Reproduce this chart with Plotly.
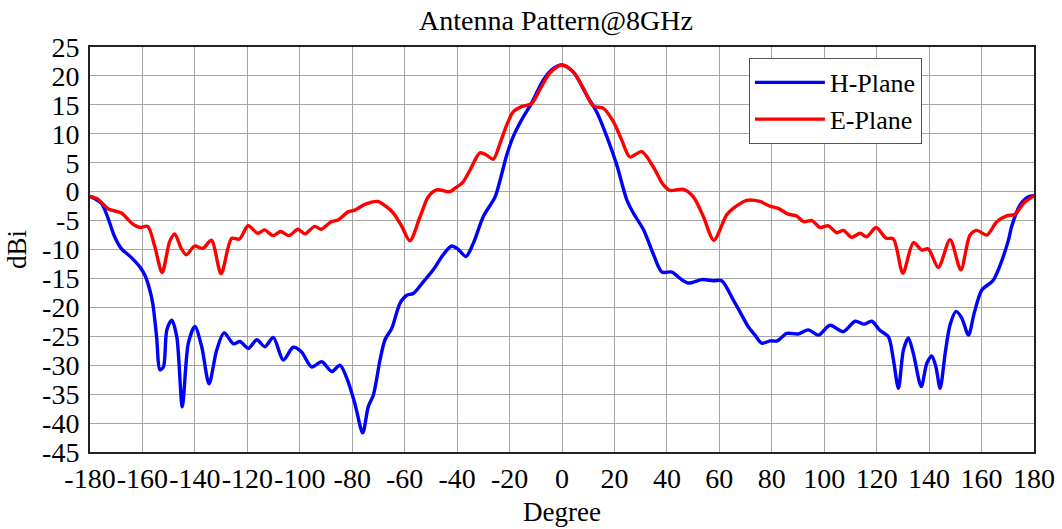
import plotly.graph_objects as go

# ---- data ----
e_deg = [-180, -177, -173, -168, -164, -161, -158, -155.3, -152.5, -149.6, -147.7, -145.2, -143.3,
         -140.1, -136.9, -133.7, -130, -126, -123, -119.7, -116, -113.4, -110.2, -107.3, -104.1,
         -100.7, -98, -94.3, -91.8, -88, -85.4, -81.6, -79, -75.2, -70.2, -67, -64.3, -61.1, -58,
         -54.1, -51, -47.8, -42.7, -40.8, -38, -35.1, -31.3, -28.7, -26.2, -23.6, -21.1, -18.6,
         -15.4, -11.6, -8.5, -4.6, 0, 4.3, 8.1, 11.9, 15.8, 19.6, 22.8, 25.9, 30.4, 34.8, 38.6,
         41.2, 46.3, 50.1, 53.9, 57.9, 62.8, 65.3, 70.4, 75.5, 79.3, 82.5, 86.3, 89.5, 92.1, 95.3,
         98.4, 101.6, 104.8, 107.3, 110.5, 113.7, 116.2, 119.8, 123.5, 126.4, 130, 134, 137.2,
         139.7, 143.5, 148, 152.1, 155.6, 158.2, 162, 165.8, 169.6, 172.8, 176, 180]
e_dbi = [-0.8, -1.3, -3.0, -3.7, -5.5, -6.2, -6.0, -9.5, -14.0, -8.6, -7.3, -9.8, -10.9,
         -9.4, -9.8, -8.4, -14.2, -8.1, -8.2, -5.9, -7.2, -6.6, -7.6, -6.9, -7.6,
         -6.5, -7.3, -6.0, -6.5, -5.2, -4.9, -3.5, -3.2, -2.2, -1.7, -2.6, -3.7, -6.0, -8.5,
         -4.3, -0.9, 0.3, 0.0, 0.6, 1.5, 3.7, 6.7, 6.3, 5.6, 8.4, 11.5, 13.8,
         14.7, 15.2, 17.6, 20.5, 21.9, 20.7, 17.9, 14.8, 14.4, 12.1, 8.9, 6.0, 6.9, 4.3, 1.2,
         0.2, 0.4, -0.9, -4.3, -8.4, -4.0, -2.9, -1.5, -1.7, -2.5, -2.9, -3.9, -4.2, -5.2, -5.0,
         -6.2, -5.9, -7.1, -6.7, -7.9, -7.2, -7.8, -6.2, -8.0, -8.2, -14.1, -8.8, -10.1,
         -9.9, -13.1, -8.3, -13.5, -7.5, -6.7, -7.5, -5.2, -4.2, -3.9, -2.0, -0.7]

h_deg = [-180, -175.7, -173.1, -170.6, -168.1, -164.2, -161, -159, -157.2, -156, -154.6, -153.3,
         -152.0, -150.7, -148.8, -146.9, -144.8, -142.5, -140, -137.4, -134.6, -131.7, -128.9,
         -125.3, -122.8, -119.6, -116.4, -113.3, -110.1, -106.3, -102.5, -99.3, -95.5, -91.6,
         -87.8, -84.7, -82.1, -79, -76, -73.9, -71.9, -69.4, -67.5, -64.9, -61.8, -59.2, -56.7,
         -52.9, -49.1, -45.3, -42.1, -39.5, -36.6, -33.8, -30, -25.5, -23.6, -21.1, -18.6, -15.4,
         -11.6, -7.1, -3.3, 0, 4.3, 9.4, 13.2, 17.1, 20.9, 24.7, 27.2, 31.1, 35, 38.1, 41.9, 45,
         48.2, 53.3, 57.7, 60.9, 65.3, 68.5, 71.1, 73.6, 76.2, 79.3, 82.1, 85.7, 90.1, 93.9, 97.8,
         102.2, 107.3, 111.8, 115.2, 118.1, 121.3, 124.5, 126.4, 128.3, 130.2, 132.1, 134, 137,
         139.1, 141, 142.6, 144.2, 146.1, 148, 150.3, 152.5, 155, 157.2, 160.1, 164.3, 167.1,
         170.3, 171.5, 174.7, 177.9, 180]
h_dbi = [-0.8, -2.0, -4.6, -7.8, -9.8, -11.4, -13.0, -14.5, -17.0, -19.5, -25.1, -30.8,
         -30.3, -23.9, -22.2, -25.1, -37.2, -26.2, -23.3, -26.8, -33.2, -27.4, -24.4,
         -26.3, -25.9, -27.1, -25.6, -26.8, -25.2, -29.1, -26.9, -27.7, -30.3, -29.4,
         -31.1, -30.0, -32.2, -36.6, -41.7, -37.2, -35.1, -29.1, -25.6, -23.6, -19.3, -17.9, -17.6,
         -15.6, -13.5, -10.9, -9.4, -10.0, -11.2, -8.9, -4.3, -0.9, 2.0, 6.3, 9.5, 12.4,
         15.3, 19.3, 21.3, 21.9, 20.7, 16.7, 13.8, 9.5, 4.6, -1.4, -3.7, -6.6, -11.0, -13.9, -13.9, -15.0,
         -15.8, -15.2, -15.4, -15.4, -18.7, -21.3, -23.4, -24.8, -26.2, -25.8, -25.8, -24.5, -24.6, -23.9, -24.8,
         -23.1, -24.2, -22.4, -22.9, -22.4, -24.0, -25.1, -29.1, -34.0, -27.4, -25.3, -28.0, -33.7,
         -29.7, -28.4, -30.3, -34.0, -28.0, -23.0, -20.7, -21.9, -24.8, -21.0, -17.0, -15.4, -12.7,
         -8.3, -6.0, -2.3, -0.9, -0.7]

x_ticks = list(range(-180, 181, 20))
y_ticks = list(range(-45, 26, 5))

FONT = "Liberation Serif, Times New Roman, serif"

fig = go.Figure()
fig.add_trace(go.Scatter(x=h_deg, y=h_dbi, mode="lines", name="H-Plane",
                         line=dict(color="#0000FF", width=3.4, shape="spline", smoothing=0.8)))
fig.add_trace(go.Scatter(x=e_deg, y=e_dbi, mode="lines", name="E-Plane",
                         line=dict(color="#FF0000", width=3.4, shape="spline", smoothing=0.8)))

axis_common = dict(showgrid=True, gridcolor="#a6a6a6", gridwidth=1,
                   showline=True, linecolor="#222222", linewidth=2, mirror=True,
                   zeroline=False, ticks="", tickangle=0,
                   tickfont=dict(family=FONT, size=28, color="#000"))

fig.update_layout(
    width=1062, height=529,
    margin=dict(l=90, r=28, t=47, b=77, autoexpand=False),
    paper_bgcolor="white", plot_bgcolor="white",
    font=dict(family=FONT, color="#000"),
    title=dict(text="Antenna Pattern@8GHz", x=0.5235, xanchor="center", y=0.962, yanchor="middle",
               font=dict(family=FONT, size=28, color="#000")),
    xaxis=dict(range=[-180, 180], tickvals=x_ticks, ticktext=[str(v) for v in x_ticks],
               title=dict(text="Degree", font=dict(family=FONT, size=27), standoff=10),
               **axis_common),
    yaxis=dict(range=[-45, 25], tickvals=y_ticks, ticktext=[str(v) for v in y_ticks],
               title=dict(text="dBi", font=dict(family=FONT, size=27), standoff=8),
               ticklabelstandoff=3,
               **axis_common),
    legend=dict(x=0.698, y=0.973, xanchor="left", yanchor="top",
                bgcolor="white", bordercolor="#555555", borderwidth=1,
                font=dict(family=FONT, size=26, color="#000"),
                itemwidth=70, tracegroupgap=0),
    showlegend=True,
)

# remove the default 8px page margin so the figure sits at the window's corner
fig.write_html("out.html", config={"displayModeBar": False},
               post_script="document.body.style.margin='0';")
